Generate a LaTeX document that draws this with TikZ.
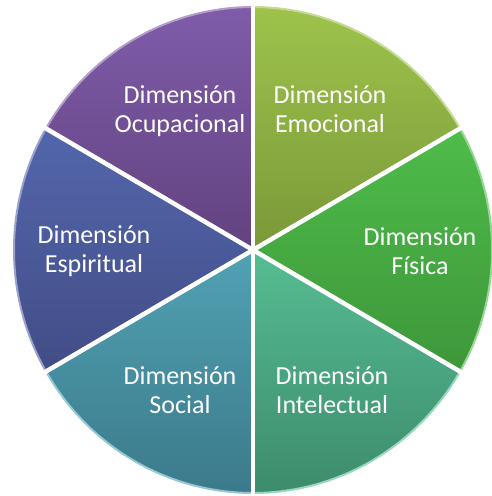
\documentclass[tikz,border=0pt]{standalone}
\usepackage{fontspec}
\setmainfont{Carlito}

\definecolor{emoTop}{HTML}{9EC34C}
\definecolor{emoBot}{HTML}{7A9838}
\definecolor{fisTop}{HTML}{4EBC4A}
\definecolor{fisBot}{HTML}{3E973A}
\definecolor{intTop}{HTML}{56BD92}
\definecolor{intBot}{HTML}{3D8C6C}
\definecolor{socTop}{HTML}{50A2B4}
\definecolor{socBot}{HTML}{3C7A8A}
\definecolor{espTop}{HTML}{5366AC}
\definecolor{espBot}{HTML}{424D86}
\definecolor{ocuTop}{HTML}{7F5CA9}
\definecolor{ocuBot}{HTML}{634280}

% one slice of the pie: start angle, end angle, top colour, bottom colour
\newcommand{\pieslice}[4]{%
  \shade[top color=#3, bottom color=#4]
    (0,0) -- (#1:239 and 243) arc[start angle=#1, end angle=#2, x radius=239, y radius=243] -- cycle;
  \draw[line width=2pt, white!40!#3]
    (0,0) -- (#1:239 and 243) arc[start angle=#1, end angle=#2, x radius=239, y radius=243] -- cycle;
}

\begin{document}
\begin{tikzpicture}[x=1pt, y=1pt,
    dimtext/.style={text=white, align=center, font=\fontsize{26}{29}\selectfont},
    gap/.style={white, line width=4.5pt, line cap=round}]
    \useasboundingbox (-253,-246) rectangle (238,250);

    \pieslice{30}{90}{emoTop}{emoBot}
    \pieslice{-30}{30}{fisTop}{fisBot}
    \pieslice{-90}{-30}{intTop}{intBot}
    \pieslice{210}{270}{socTop}{socBot}
    \pieslice{150}{210}{espTop}{espBot}
    \pieslice{90}{150}{ocuTop}{ocuBot}

    \coordinate (O) at (0,0);
    \foreach \a in {30,90,150,210,270,330}
        \draw[gap] (O) -- (\a:241 and 245);

    \node[dimtext] (emocional)    at (77,141)   {Dimensión\\Emocional};
    \node[dimtext] (fisica)       at (167,-1)   {Dimensión\\Física};
    \node[dimtext] (intelectual)  at (79,-140)  {Dimensión\\Intelectual};
    \node[dimtext] (social)       at (-73,-140) {Dimensión\\Social};
    \node[dimtext] (espiritual)   at (-159,-1)  {Dimensión\\Espiritual};
    \node[dimtext] (ocupacional)  at (-73,139)  {Dimensión\\Ocupacional};
\end{tikzpicture}
\end{document}
